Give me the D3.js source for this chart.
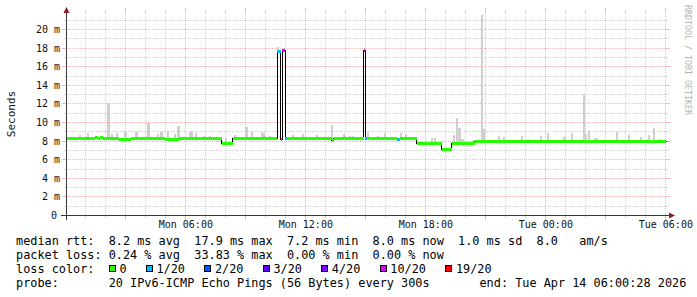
<!DOCTYPE html>
<html>
<head>
<meta charset="utf-8">
<script src="https://cdn.jsdelivr.net/npm/d3@7"></script>
<style>
  html, body { margin: 0; padding: 0; background: #fff; }
  svg { display: block; font-family: "DejaVu Sans Mono", monospace; }
  text { white-space: pre; }
</style>
</head>
<body>
<div id="chart"></div>
<script>
// times are hours since Mon 00:00, values in ms
// [start, end, median, lost pings out of 20]
var medianSegments = [
  [0.00, 1.45, 8.30, 0], [1.45, 1.60, 8.42, 0], [1.60, 1.70, 8.30, 0],
  [1.70, 1.85, 8.42, 0], [1.85, 2.65, 8.28, 0], [2.65, 3.25, 8.20, 0],
  [3.25, 4.95, 8.30, 0], [4.95, 5.45, 8.22, 0], [5.45, 5.65, 8.12, 0],
  [5.65, 6.65, 8.32, 0], [6.65, 7.80, 8.25, 0], [7.80, 8.35, 7.70, 0],
  [8.35, 10.58, 8.25, 0], [10.58, 10.75, 17.60, 1], [10.75, 10.83, 8.20, 1],
  [10.83, 10.98, 17.75, 10], [10.98, 11.08, 8.25, 1], [11.08, 13.30, 8.25, 0],
  [13.30, 13.40, 8.10, 0], [13.40, 14.90, 8.25, 0], [14.90, 14.98, 17.70, 10],
  [14.98, 15.08, 8.30, 1], [15.08, 16.55, 8.25, 0], [16.55, 16.70, 8.20, 1],
  [16.70, 17.55, 8.25, 0], [17.55, 18.80, 7.70, 0], [18.80, 19.30, 7.15, 0],
  [19.30, 20.45, 7.72, 0], [20.45, 24.00, 7.95, 0], [24.00, 30.01, 8.00, 0]
];

// [hour, max rtt of the smoke]
var smokePeaks = [
  [0.71, 8.7], [1.11, 8.85], [2.13, 12.1], [2.31, 8.8], [2.56, 8.85], [2.99, 8.95],
  [3.54, 8.95], [4.13, 10.0], [4.61, 8.8], [4.79, 8.95], [5.11, 9.1], [5.46, 8.8],
  [5.63, 9.6], [6.21, 8.95], [6.31, 9.05], [6.51, 8.85], [6.91, 8.6], [7.21, 8.6],
  [8.01, 8.3], [8.46, 8.7], [9.03, 9.5], [9.31, 8.95], [9.81, 9.0], [9.91, 8.9],
  [10.21, 8.6], [10.61, 18.1], [10.91, 18.05], [11.36, 8.7], [11.86, 8.8], [12.56, 8.7],
  [13.31, 9.7], [13.91, 8.8], [14.21, 8.6], [14.36, 8.6], [15.11, 8.95], [15.61, 8.6],
  [15.96, 8.85], [16.76, 8.85], [17.01, 8.8], [17.71, 8.06], [18.31, 8.3], [18.46, 8.3],
  [19.41, 8.7], [19.56, 10.5], [19.68, 9.4], [19.83, 8.25], [20.36, 8.1], [20.81, 21.6],
  [20.92, 9.3], [21.66, 8.5], [21.91, 8.4], [22.81, 8.6], [23.11, 8.2], [23.76, 8.5],
  [24.11, 8.9], [24.93, 8.4], [25.31, 8.85], [25.91, 13.1], [26.01, 8.8], [26.16, 9.1],
  [26.46, 8.3], [26.56, 8.3], [26.86, 8.15], [27.56, 8.95], [28.16, 8.7], [28.76, 8.4],
  [29.16, 8.7], [29.41, 9.4], [29.71, 8.2]
];

var xTickHours = [6, 12, 18, 24, 30];
var xTickLabels = ['Mon 06:00', 'Mon 12:00', 'Mon 18:00', 'Tue 00:00', 'Tue 06:00'];
var yTickValues = [0, 2, 4, 6, 8, 10, 12, 14, 16, 18, 20];
var yTickLabels = ['0', '2 m', '4 m', '6 m', '8 m', '10 m', '12 m', '14 m', '16 m', '18 m', '20 m'];

var lossThresholds = [0, 1, 2, 3, 4, 10, 19];
var lossLabels = ['0', '1/20', '2/20', '3/20', '4/20', '10/20', '19/20'];
var lossColors = ['#26ff00', '#00b8ff', '#0059ff', '#5e00ff', '#7e00ff', '#dd00ff', '#ff0000'];

var legendLines = [
  'median rtt:  8.2 ms avg  17.9 ms max  7.2 ms min  8.0 ms now  1.0 ms sd  8.0   am/s',
  'packet loss: 0.24 % avg  33.83 % max  0.00 % min  0.00 % now',
  'loss color:',
  'probe:       20 IPv6-ICMP Echo Pings (56 Bytes) every 300s       end: Tue Apr 14 06:00:28 2026'
];

var width = 697, height = 297, charW = 7.13;
var start = 28 / 3600; // graph starts at Mon 00:00:28

var svg = d3.select('#chart').append('svg')
  .attr('width', width).attr('height', height);

var x = d3.scaleLinear().domain([start, start + 30]).range([66, 666]);
var y = d3.scaleLinear().domain([0, 20]).range([215.5, 29.5]);
function px(v) { return Math.floor(v) + 0.5; }

var gridColor = '#d4d4d4', majorColor = '#ecbcbc', axisColor = '#3a3a3a';

// grid
var grid = svg.append('g').attr('shape-rendering', 'crispEdges');
d3.range(1, 22).forEach(function(v) {
  var major = v % 2 === 0, yy = px(y(v)), ext = major ? 4 : 2;
  var c = major ? majorColor : gridColor;
  grid.append('line').attr('x1', 66).attr('x2', 666).attr('y1', yy).attr('y2', yy)
    .attr('stroke', c).attr('stroke-dasharray', '1,1');
  grid.append('line').attr('x1', 66 - ext).attr('x2', 66).attr('y1', yy).attr('y2', yy)
    .attr('stroke', c);
  grid.append('line').attr('x1', 666).attr('x2', 666 + ext).attr('y1', yy).attr('y2', yy)
    .attr('stroke', c);
});
d3.range(1, 31).forEach(function(h) {
  var major = h % 3 === 0, xx = px(x(h)), ext = major ? 4 : 2;
  var c = major ? majorColor : gridColor;
  grid.append('line').attr('x1', xx).attr('x2', xx).attr('y1', 12).attr('y2', 215)
    .attr('stroke', c).attr('stroke-dasharray', '1,1');
  grid.append('line').attr('x1', xx).attr('x2', xx).attr('y1', 216).attr('y2', 216 + ext)
    .attr('stroke', c);
  grid.append('line').attr('x1', xx).attr('x2', xx).attr('y1', 12 - ext).attr('y2', 12)
    .attr('stroke', c);
});

// smoke
function medianAt(h) {
  var s = medianSegments.find(function(d) { return h >= d[0] && h < d[1]; });
  return s ? s[2] : 8.2;
}
svg.append('g').attr('shape-rendering', 'crispEdges')
  .selectAll('rect').data(smokePeaks).enter().append('rect')
  .attr('x', function(d) { return Math.round(x(d[0] - 0.06)); })
  .attr('width', function(d) { return Math.max(1, Math.round(x(d[0] + 0.06)) - Math.round(x(d[0] - 0.06))); })
  .attr('y', function(d) { return Math.round(y(d[1])); })
  .attr('height', function(d) { return Math.max(0, Math.round(y(medianAt(d[0]) - 0.15)) - Math.round(y(d[1]))); })
  .attr('fill', '#cfcfcf');

// median: black step line, then loss coloured segments
var stepPts = medianSegments.map(function(d) { return [Math.max(d[0], start), d[2]]; });
var last = medianSegments[medianSegments.length - 1];
stepPts.push([last[1], last[2]]);
svg.append('path')
  .datum(stepPts)
  .attr('d', d3.line()
    .x(function(d) { return px(x(d[0])); })
    .y(function(d) { return px(y(d[1])); })
    .curve(d3.curveStepAfter))
  .attr('fill', 'none').attr('stroke', '#000').attr('stroke-width', 1)
  .attr('shape-rendering', 'crispEdges');

function lossColor(n) {
  var idx = 0;
  lossThresholds.forEach(function(t, i) { if (n >= t) idx = i; });
  return lossColors[idx];
}
svg.append('g').attr('shape-rendering', 'crispEdges')
  .selectAll('line').data(medianSegments).enter().append('line')
  .attr('x1', function(d) { return Math.round(x(Math.max(d[0], start))); })
  .attr('x2', function(d) { return Math.round(x(Math.min(d[1], start + 30))); })
  .attr('y1', function(d) { return px(y(d[2])); })
  .attr('y2', function(d) { return px(y(d[2])); })
  .attr('stroke', function(d) { return lossColor(d[3]); })
  .attr('stroke-width', 3);

// axes
var axes = svg.append('g').attr('shape-rendering', 'crispEdges');
axes.append('line').attr('x1', 61).attr('x2', 670).attr('y1', 215.5).attr('y2', 215.5)
  .attr('stroke', axisColor);
axes.append('line').attr('x1', 66.5).attr('x2', 66.5).attr('y1', 220).attr('y2', 11)
  .attr('stroke', axisColor);
svg.append('path').attr('d', 'M63.5,13L69.5,13L66.5,7Z').attr('fill', '#8a1f1f');
svg.append('path').attr('d', 'M669,212.5L669,218.5L675,215.5Z').attr('fill', '#8a1f1f');

// tick labels
svg.append('g').selectAll('text').data(yTickValues).enter().append('text')
  .attr('x', function(d) { return d === 0 ? 57 : 60; })
  .attr('y', function(d) { return px(y(d)) + 3.5; })
  .attr('text-anchor', 'end')
  .attr('font-size', '10px')
  .attr('fill', '#111')
  .text(function(d, i) { return yTickLabels[i]; });

svg.append('g').selectAll('text').data(xTickHours).enter().append('text')
  .attr('x', function(d) { return x(d); })
  .attr('y', 227.5)
  .attr('text-anchor', 'middle')
  .attr('font-size', '10px')
  .attr('fill', '#111')
  .text(function(d, i) { return xTickLabels[i]; });

svg.append('text')
  .attr('transform', 'translate(15,114) rotate(-90)')
  .attr('text-anchor', 'middle')
  .attr('font-size', '11px')
  .attr('fill', '#111')
  .text('Seconds');

svg.append('text')
  .attr('transform', 'translate(685,5) rotate(90)')
  .attr('font-size', '8.3px')
  .attr('fill', '#b4b4b4')
  .text('RRDTOOL / TOBI OETIKER');

// legend
var legend = svg.append('g').attr('font-size', '11.85px').attr('fill', '#000');
legendLines.forEach(function(line, i) {
  legend.append('text').attr('x', 16).attr('y', 244.5 + i * 14).text(line);
});
var cursor = 13;
lossLabels.forEach(function(label, i) {
  var lx = 16 + cursor * charW;
  legend.append('rect')
    .attr('x', Math.round(lx) + 0.5).attr('y', 265.5)
    .attr('width', 6).attr('height', 6)
    .attr('fill', lossColors[i]).attr('stroke', '#000').attr('stroke-width', 1);
  legend.append('text').attr('x', lx + 10.7).attr('y', 272.5).text(label);
  cursor += label.length + 4.2;
});
</script>
</body>
</html>
